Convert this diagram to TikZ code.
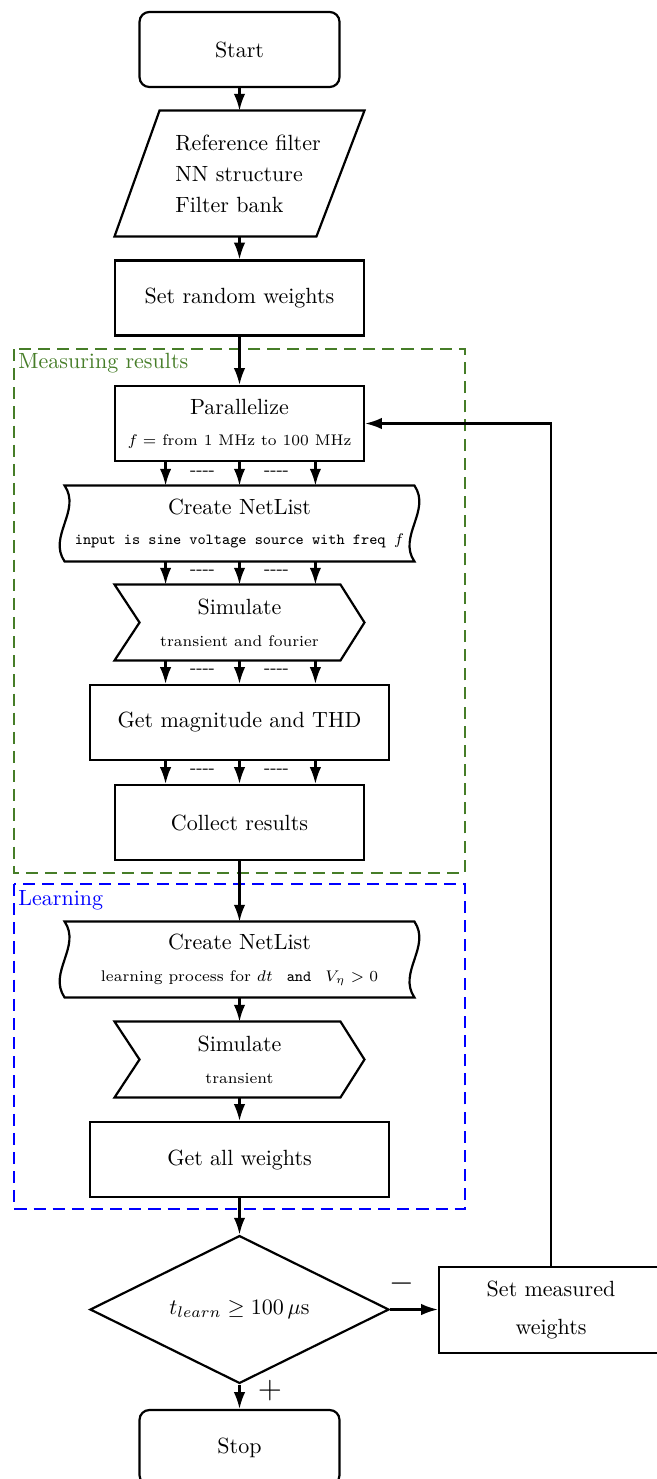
\documentclass[tikz,border=0pt]{standalone}
\usetikzlibrary{arrows.meta,calc,shapes.geometric}
\definecolor{mgreen}{RGB}{70,125,40}
\begin{document}
\begin{tikzpicture}[x=0.4545pt,y=-0.4545pt,
  every node/.style={inner sep=0pt},
  ln/.style={line width=1pt},
  arr/.style={line width=1pt,-{Latex[length=7.6pt,width=5.2pt]}},
  box/.style={draw,line width=1pt,minimum width=113.2pt,minimum height=34.1pt,align=center},
  widebox/.style={box,minimum width=135.9pt},
  ghost/.style={minimum width=113.2pt,minimum height=34.1pt,align=center},
  tapebox/.style={ghost,minimum width=158.6pt},
  term/.style={draw,line width=1pt,rounded corners=4.5pt,minimum width=90.9pt,minimum height=34.1pt},
  grp/.style={line width=1.3pt,dash pattern=on 5.5pt off 3.2pt},
  dots/.style={font=\footnotesize},
  sub/.style={font=\scriptsize}]
\useasboundingbox (0,0) rectangle (656,1479);

% group frames
\draw[grp,mgreen] (14,349) rectangle (465,873);
\node[anchor=base west,text=mgreen] (glabel) at (18,368) {Measuring results};
\draw[grp,blue] (14,884) rectangle (465,1209);
\node[anchor=base west,text=blue] (blabel) at (18,905) {Learning};

% nodes
\node[term] (start) at (239.5,49.5) {Start};

\node[minimum width=113.2pt,minimum height=56.8pt] (inp) at (239.5,173.5) {};
\draw[ln] ($(inp.north west)+(45,0)$) -- (inp.north east) -- ($(inp.south east)+(-48,0)$) -- (inp.south west) -- cycle;
\node[anchor=west,align=left] (inptext) at (175,174) {Reference filter\\[2.1pt]NN structure\\[2.1pt]Filter bank};

\node[box] (srw) at (239.5,298) {Set random weights};

\node[box] (par) at (239.5,423.5) {Parallelize\\[2pt]{\scriptsize $f=$ from 1 MHz to 100 MHz}};

\node[tapebox] (cn1) at (239.5,523.5) {Create NetList\\[2pt]{\scriptsize\ttfamily input is sine voltage source with freq $f$}};
\draw[ln] (cn1.north west) -- (cn1.north east) .. controls +(17,25) and +(-17,-25) .. (cn1.south east) -- (cn1.south west) .. controls +(-17,-25) and +(17,25) .. (cn1.north west) -- cycle;

\node[ghost] (sim1) at (239.5,622.5) {Simulate\\[2.5pt]{\scriptsize transient and fourier}};
\draw[ln] (sim1.north west) -- ($(sim1.north east)+(-24,0)$) -- (sim1.east) -- ($(sim1.south east)+(-24,0)$) -- (sim1.south west) -- ($(sim1.west)+(25,0)$) -- cycle;

\node[widebox] (gmt) at (239.5,722.5) {Get magnitude and THD};
\node[box] (col) at (239.5,822.5) {Collect results};

\node[tapebox] (cn2) at (239.5,959.5) {Create NetList\\[2.5pt]{\scriptsize learning process for $dt$ \texttt{ and } $V_\eta>0$}};
\draw[ln] (cn2.north west) -- (cn2.north east) .. controls +(17,25) and +(-17,-25) .. (cn2.south east) -- (cn2.south west) .. controls +(-17,-25) and +(17,25) .. (cn2.north west) -- cycle;

\node[ghost] (sim2) at (239.5,1059.5) {Simulate\\[2.5pt]{\scriptsize transient}};
\draw[ln] (sim2.north west) -- ($(sim2.north east)+(-24,0)$) -- (sim2.east) -- ($(sim2.south east)+(-24,0)$) -- (sim2.south west) -- ($(sim2.west)+(25,0)$) -- cycle;

\node[widebox] (gaw) at (239.5,1159.5) {Get all weights};

\node[draw,diamond,aspect=2,line width=1pt,minimum width=135.9pt,minimum height=67.2pt] (dec) at (239.5,1309.5) {$t_{learn}\geq 100\,\mu\mathrm{s}$};

\node[box,minimum width=101.8pt,minimum height=39.1pt] (smw) at (551,1310) {Set measured\\[5.7pt]weights};

\node[term] (stop) at (239.5,1447.5) {Stop};

% connectors
\draw[arr] (start.south) -- (inp.north);
\draw[arr] (inp.south) -- (srw.north);
\draw[arr] (srw.south) -- (par.north);
\foreach \a/\b in {par/cn1,cn1/sim1,sim1/gmt,gmt/col}{
  \draw[arr] ([xshift=-33.6pt]\a.south) -- ([xshift=-33.6pt]\b.north);
  \draw[arr] (\a.south) -- (\b.north);
  \draw[arr] ([xshift=34.5pt]\a.south) -- ([xshift=34.5pt]\b.north);
  \node[dots] (d1\a) at ($(\a.south)!0.5!(\b.north)+(-37,-1)$) {\hbox{-}\hbox{-}\hbox{-}\hbox{-}};
  \node[dots] (d2\a) at ($(\a.south)!0.5!(\b.north)+(37,-1)$) {\hbox{-}\hbox{-}\hbox{-}\hbox{-}};
}
\draw[arr] (col.south) -- (cn2.north);
\draw[arr] (cn2.south) -- (sim2.north);
\draw[arr] (sim2.south) -- (gaw.north);
\draw[arr] (gaw.south) -- (dec.north);
\draw[arr] (dec.east) -- (smw.west |- dec.east);
\draw[arr] (dec.south) -- (stop.north);
\draw[arr] (smw.north) |- (par.east);

\node[font=\Large] (minus) at (402,1284) {$-$};
\node[font=\Large] (plus) at (270,1391) {$+$};
\end{tikzpicture}
\end{document}
